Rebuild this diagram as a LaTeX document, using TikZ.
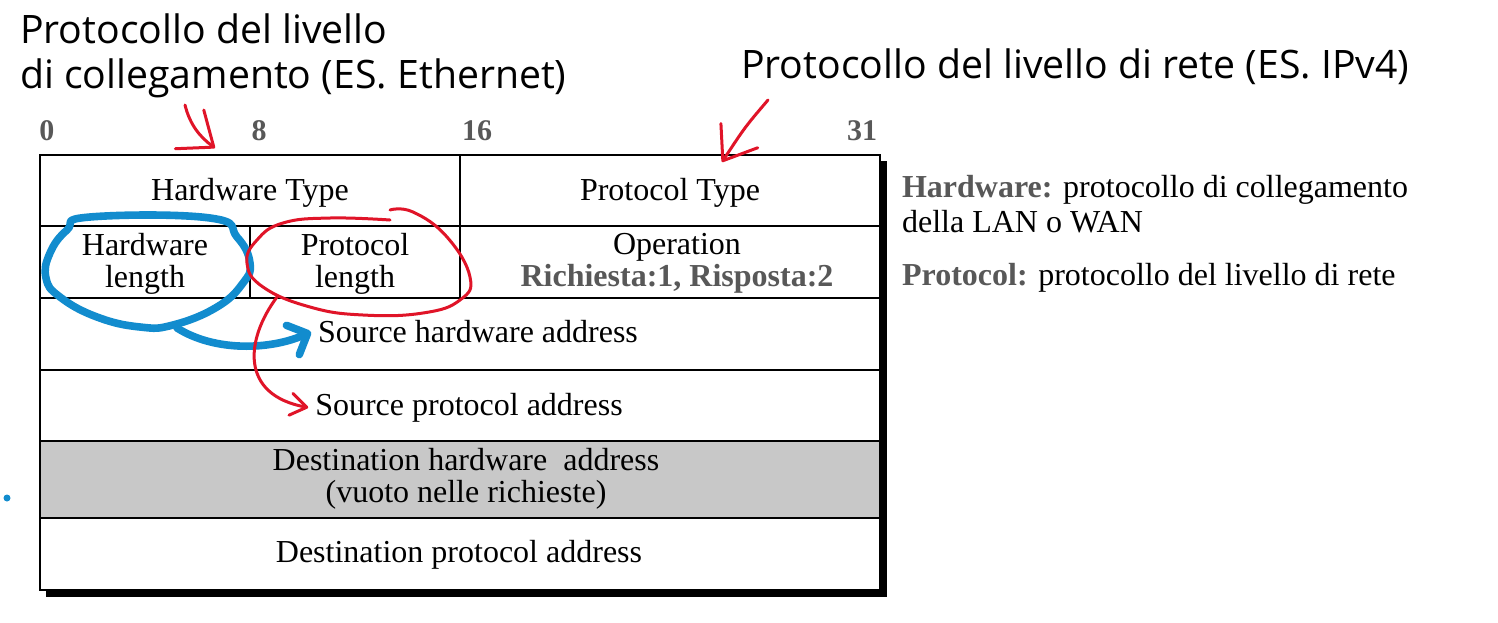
\documentclass[tikz,border=0pt]{standalone}
\usepackage{fontspec}
\setmainfont{Liberation Serif}
\newfontfamily\handfont{Open Sans}
\usetikzlibrary{arrows.meta}
\definecolor{penblue}{RGB}{18,140,206}
\definecolor{penred}{RGB}{224,20,40}
\definecolor{bitgray}{RGB}{88,88,88}
\definecolor{rowgray}{RGB}{200,200,200}
\tikzstyle{field} = [align=center, font=\fontsize{16}{16}\selectfont]
\tikzstyle{bit} = [anchor=base, font=\fontsize{15}{15}\selectfont\bfseries, text=bitgray]
\tikzstyle{note} = [anchor=base west, font=\fontsize{16}{17.5}\selectfont]
\tikzstyle{hand} = [anchor=base west, font=\handfont\fontsize{19.6}{22}\selectfont]
\tikzstyle{grid} = [line width=1.2pt]
\tikzstyle{bluepen} = [draw=penblue, line width=3.8pt, line cap=round, line join=round]
\tikzstyle{redpen} = [draw=penred, line width=1.5pt, line cap=round, line join=round]
\begin{document}
\begin{tikzpicture}[x=0.5pt, y=-0.5pt]
\useasboundingbox (0,0) rectangle (1498,622);

% frame with shadow
\fill[black] (46,161) rectangle (887,597);
\fill[white] (40,155) rectangle (880,590);
\fill[rowgray] (40,441) rectangle (880,518);
\draw[grid] (40,155) rectangle (880,590);
\foreach \y in {226,298,370,441,518}
  \draw[grid] (40,\y) -- (880,\y);
\draw[grid] (460,155) -- (460,298);
\draw[grid] (250,226) -- (250,298);

% bit positions
\node (b0) [bit] at (47,140) {0};
\node (b8) [bit] at (259,140) {8};
\node (b16) [bit] at (477,140) {16};
\node (b31) [bit] at (862,140) {31};

% fields
\node (ht) [field] at (250,192.5) {Hardware Type};
\node (pt) [field] at (670,192.5) {Protocol Type};
\node (hl) [field] at (145,263.5) {Hardware\\length};
\node (pl) [field] at (355,263.5) {Protocol\\length};
\node (op) [field] at (677,263.5) {Operation\\\textcolor{bitgray}{\bfseries Richiesta:1, Risposta:2}};
\node (sha) [field] at (478,332) {Source hardware address};
\node (spa) [field] at (469,407.5) {Source protocol address};
\node (dha) [field] at (466,478.5) {Destination hardware~ address\\(vuoto nelle richieste)};
\node (dpa) [field] at (459,554.5) {Destination protocol address};

% notes
\node (hwa) [note] at (895,197) {\textcolor{bitgray}{\bfseries Hardware:} protocollo di collegamento};
\node (hwb) [note] at (895,232) {della LAN o WAN};
\node (prn) [note] at (895,285) {\textcolor{bitgray}{\bfseries Protocol:} protocollo del livello di rete};

% handwritten remarks
\node (lnka) [hand] at (13,43) {Protocollo del livello};
\node (lnkb) [hand] at (13,88) {di collegamento (ES. Ethernet)};
\node (net) [hand] at (734,78) {Protocollo del livello di rete (ES. IPv4)};

\coordinate (lnkfoot) at (185,105);
\coordinate (lnktip) at (215,148);
\coordinate (netfoot) at (768,100);
\coordinate (nettip) at (722,162);
\coordinate (hlout) at (177,328);
\coordinate (plout) at (277,297);

\draw[redpen, -{Straight Barb[length=15pt, width=24pt, round]}] (lnkfoot) .. controls (190,125) and (200,137) .. (lnktip);
\draw[redpen, -{Straight Barb[length=15pt, width=22pt, round]}] (netfoot) .. controls (745,127) .. (nettip);

\draw[bluepen] plot[smooth cycle, tension=0.75] coordinates {(90,217) (210,218) (237,237) (250,263) (243,283) (217,307) (173,325) (140,327) (97,317) (60,297) (46,278) (50,253) (67,230)};
\draw[bluepen, -{Straight Barb[length=8pt, width=16pt, round]}] (hlout) .. controls (215,352) and (270,350) .. (sha.west);

\draw[redpen] plot[smooth, tension=0.75] coordinates {(390,220) (330,218) (283,223) (257,240) (247,263) (263,287) (310,307) (363,315) (423,313) (460,300) (470,277) (447,237) (413,212) (390,210)};
\draw[redpen, -{Straight Barb[length=8pt, width=11pt, round]}] (plout) .. controls (245,340) and (240,395) .. (spa.west);

\fill[penblue] (7,498) circle (3.5);
\end{tikzpicture}
\end{document}
